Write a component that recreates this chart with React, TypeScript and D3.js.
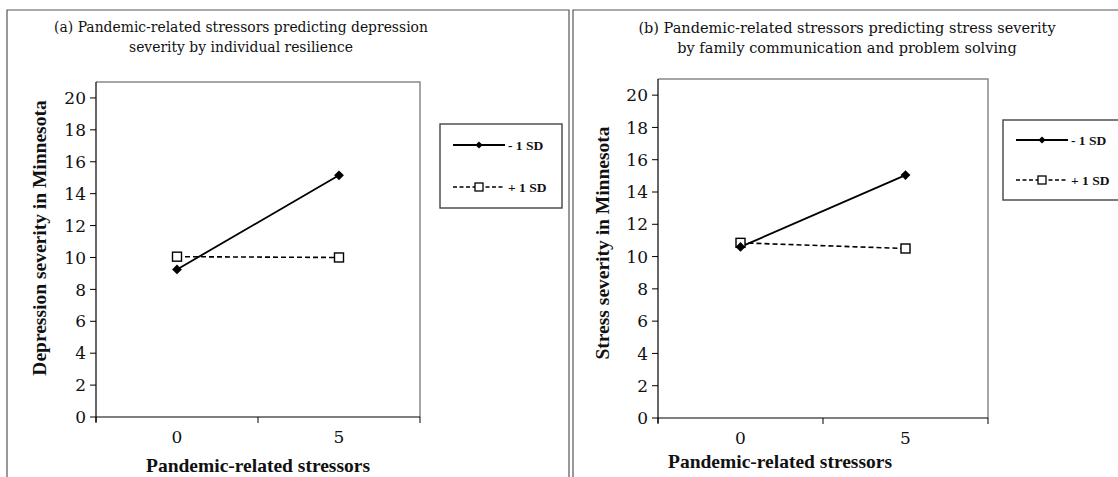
import React from "react";
import { scaleBand, scaleLinear, line, range as d3range, symbol, symbolSquare } from "d3";

// stressor levels on the x axis
const stressorLevels = ["0", "5"];
const yTicks = d3range(0, 21, 2);

// panel (a): depression severity by individual resilience
const depressionLow = [9.25, 15.15];   // - 1 SD
const depressionHigh = [10.05, 10.0];  // + 1 SD

// panel (b): stress severity by family communication and problem solving
const stressLow = [10.6, 15.05];
const stressHigh = [10.85, 10.5];

const seriesNames = ["- 1 SD", "+ 1 SD"];

// regular Times-like face is not picked up here, DejaVu Serif stands in
const FONT = "'DejaVu Serif', serif";
const BOLD = "'Liberation Serif', 'DejaVu Serif', serif";

type PanelProps = {
    frame: { x: number; y: number; w: number; h: number; right: boolean };
    titleLines: string[];
    titleX: number;
    titleY: number;
    titleSize: number;
    plot: { x0: number; x1: number; y0: number; y1: number };
    yLabel: string;
    yLabelX: number;
    yLabelY: number;
    xLabelX: number;
    xLabelY: number;
    low: number[];
    high: number[];
    legend: { x: number; y: number; w: number; h: number };
};

function Panel(p: PanelProps) {
    const xScale = scaleBand().domain(stressorLevels).range([p.plot.x0, p.plot.x1]);
    const yScale = scaleLinear().domain([0, 21]).range([p.plot.y1, p.plot.y0]);
    const cx = (d: string) => (xScale(d) as number) + xScale.bandwidth() / 2;

    const lineGen = line<number>()
        .x((_, i) => cx(stressorLevels[i]))
        .y(v => yScale(v));

    // diamond = square turned 45 degrees
    const diamond = symbol().type(symbolSquare).size(48)();
    const smallDiamond = symbol().type(symbolSquare).size(26)();
    const boundaries = [...stressorLevels.map(d => xScale(d) as number), p.plot.x1];
    const lg = p.legend;
    const { x, y, w, h } = p.frame;

    return (
        <g>
            {/* panel frame */}
            <path
                d={`M${x},${y + h}V${y}H${x + w}${p.frame.right ? `V${y + h}` : ""}`}
                fill="none" stroke="#555" strokeWidth={1.2} />

            {p.titleLines.map((t, i) => (
                <text key={i} x={p.titleX} y={p.titleY + i * 20} textAnchor="middle"
                    fontSize={p.titleSize} fontFamily={FONT} fill="#111">{t}</text>
            ))}

            {/* plot area */}
            <path d={`M${p.plot.x0},${p.plot.y0}H${p.plot.x1}V${p.plot.y1}`}
                fill="none" stroke="#888" strokeWidth={1.5} />
            <line x1={p.plot.x0} x2={p.plot.x0} y1={p.plot.y0} y2={p.plot.y1 + 5} stroke="#000" strokeWidth={1.2} />
            <line x1={p.plot.x0} x2={p.plot.x1} y1={p.plot.y1} y2={p.plot.y1} stroke="#000" strokeWidth={1.2} />

            {yTicks.map(t => (
                <g key={t} transform={`translate(0,${yScale(t)})`}>
                    <line x1={p.plot.x0 - 6} x2={p.plot.x0} stroke="#000" />
                    <text x={p.plot.x0 - 10} dy="0.36em" textAnchor="end" fontSize={17}
                        fontFamily={FONT} fill="#111">{t}</text>
                </g>
            ))}
            {boundaries.map((b, i) => (
                <line key={i} x1={b} x2={b} y1={p.plot.y1} y2={p.plot.y1 + 6} stroke="#000" />
            ))}
            {stressorLevels.map(d => (
                <text key={d} x={cx(d)} y={p.plot.y1 + 26} textAnchor="middle" fontSize={17}
                    fontFamily={FONT} fill="#111">{d}</text>
            ))}

            <text transform={`translate(${p.yLabelX},${p.yLabelY}) rotate(-90)`}
                textAnchor="middle" fontSize={19.5} fontWeight="bold" fontFamily={BOLD} fill="#111">{p.yLabel}</text>
            <text x={p.xLabelX} y={p.xLabelY} textAnchor="middle" fontSize={19.5} fontWeight="bold"
                fontFamily={BOLD} fill="#111">Pandemic-related stressors</text>

            {/* lines */}
            <path d={lineGen(p.high) ?? ""} fill="none" stroke="#000" strokeWidth={1.6} strokeDasharray="5,3" />
            <path d={lineGen(p.low) ?? ""} fill="none" stroke="#000" strokeWidth={1.8} />
            {p.high.map((v, i) => (
                <rect key={i} x={cx(stressorLevels[i]) - 4.5} y={yScale(v) - 4.5} width={9} height={9}
                    fill="#fff" stroke="#000" strokeWidth={1.4} />
            ))}
            {p.low.map((v, i) => (
                <path key={i} d={diamond} transform={`translate(${cx(stressorLevels[i])},${yScale(v)}) rotate(45)`} fill="#000" />
            ))}

            {/* legend */}
            <rect x={lg.x} y={lg.y} width={lg.w} height={lg.h} fill="#fff" stroke="#444" strokeWidth={1.4} />
            {seriesNames.map((name, i) => {
                const ly = lg.y + lg.h * (i === 0 ? 0.25 : 0.75);
                const lx = lg.x + 13;
                return (
                    <g key={name}>
                        <line x1={lx} x2={lx + 52} y1={ly} y2={ly} stroke="#000"
                            strokeWidth={i === 0 ? 1.8 : 1.5} strokeDasharray={i === 0 ? undefined : "4,2.5"} />
                        {i === 0
                            ? <path d={smallDiamond} transform={`translate(${lx + 26},${ly}) rotate(45)`} fill="#000" />
                            : <rect x={lx + 22} y={ly - 4} width={8} height={8} fill="#fff" stroke="#000" strokeWidth={1.3} />}
                        <text x={lx + 55} y={ly} dy="0.35em" fontSize={13.5} fontWeight="bold"
                            fontFamily={BOLD} fill="#111">{name}</text>
                    </g>
                );
            })}
        </g>
    );
}

export default function App() {
    return (
        <svg width={1118} height={477} style={{ position: "absolute", left: 0, top: 0, background: "#fff" }}>
            <Panel
                frame={{ x: 7, y: 10, w: 562, h: 470, right: true }}
                titleLines={["(a) Pandemic-related stressors predicting depression", "severity by individual resilience"]}
                titleX={241} titleY={32} titleSize={13.9}
                plot={{ x0: 96, x1: 420, y0: 82, y1: 417 }}
                yLabel="Depression severity in Minnesota" yLabelX={46} yLabelY={238}
                xLabelX={258} xLabelY={472}
                low={depressionLow} high={depressionHigh}
                legend={{ x: 440, y: 124, w: 122, h: 84 }}
            />
            <Panel
                frame={{ x: 573, y: 10, w: 560, h: 470, right: false }}
                titleLines={["(b) Pandemic-related stressors predicting stress severity", "by family communication and problem solving"]}
                titleX={847} titleY={33} titleSize={14.5}
                plot={{ x0: 658, x1: 988, y0: 79, y1: 418 }}
                yLabel="Stress severity in Minnesota" yLabelX={609} yLabelY={243}
                xLabelX={780} xLabelY={468}
                low={stressLow} high={stressHigh}
                legend={{ x: 1003, y: 120, w: 130, h: 80 }}
            />
        </svg>
    );
}
